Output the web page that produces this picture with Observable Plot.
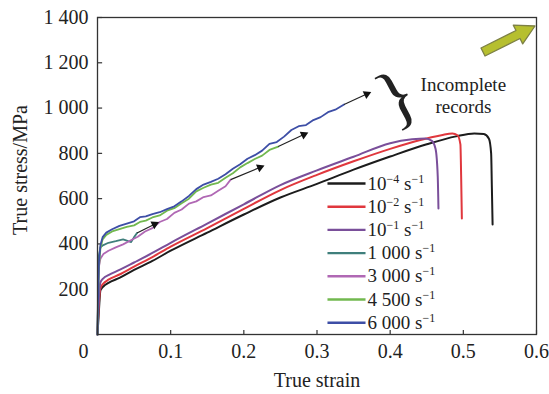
<!DOCTYPE html>
<html>
<head>
<meta charset="utf-8">
<script src="https://cdn.jsdelivr.net/npm/d3@7"></script>
<script src="https://cdn.jsdelivr.net/npm/@observablehq/plot@0.6"></script>
<style>
  html, body { margin: 0; padding: 0; background: #fff; }
  svg text { white-space: pre; font-family: 'Liberation Serif', 'Times New Roman', serif !important; }
</style>
</head>
<body>
<div id="chart"></div>
<script>
// ---------- data ----------
const rateLabels = ["10^−4 s^−1", "10^−2 s^−1", "10^−1 s^−1", "1 000 s^−1", "3 000 s^−1", "4 500 s^−1", "6 000 s^−1"];

const strain_1e4 = [0, 0.002, 0.004, 0.008, 0.015, 0.03, 0.05, 0.075, 0.1, 0.15, 0.2, 0.25, 0.3, 0.35, 0.4, 0.45, 0.49, 0.515, 0.528, 0.535, 0.538, 0.539, 0.54];
const stress_1e4 = [0, 110, 195, 212, 228, 250, 285, 325, 370, 450, 530, 605, 665, 728, 786, 840, 875, 888, 885, 865, 800, 650, 486];

const strain_1e2 = [0, 0.002, 0.004, 0.008, 0.015, 0.03, 0.05, 0.075, 0.1, 0.15, 0.2, 0.25, 0.3, 0.35, 0.4, 0.44, 0.47, 0.485, 0.492, 0.496, 0.497, 0.498];
const stress_1e2 = [0, 140, 205, 225, 242, 265, 300, 342, 388, 470, 555, 638, 705, 765, 820, 858, 880, 888, 880, 840, 700, 512];

const strain_1e1 = [0, 0.002, 0.004, 0.008, 0.015, 0.03, 0.05, 0.075, 0.1, 0.15, 0.2, 0.25, 0.3, 0.35, 0.4, 0.43, 0.448, 0.457, 0.462, 0.465, 0.466];
const stress_1e1 = [0, 170, 230, 248, 262, 285, 318, 360, 405, 490, 575, 660, 725, 785, 845, 862, 866, 855, 820, 700, 556];

const strain_1000 = [0, 0.001, 0.002, 0.004, 0.008, 0.015, 0.025, 0.035, 0.042, 0.046, 0.05, 0.054];
const stress_1000 = [0, 250, 350, 385, 395, 405, 412, 420, 412, 408, 430, 448];

const strain_3000 = [0, 0.001, 0.002, 0.004, 0.008, 0.015, 0.025, 0.035, 0.045, 0.055, 0.065, 0.075, 0.085, 0.095, 0.105, 0.115, 0.125, 0.135, 0.145, 0.155, 0.165, 0.175, 0.182];
const stress_3000 = [0, 200, 300, 335, 355, 370, 385, 398, 415, 432, 455, 470, 497, 510, 537, 552, 578, 588, 607, 614, 635, 655, 684];

const strain_4500 = [0, 0.001, 0.002, 0.004, 0.007, 0.012, 0.02, 0.03, 0.04, 0.05, 0.058, 0.066, 0.075, 0.085, 0.095, 0.105, 0.115, 0.125, 0.135, 0.145, 0.155, 0.165, 0.175, 0.185, 0.195, 0.205, 0.215, 0.225, 0.235, 0.247];
const stress_4500 = [0, 180, 300, 380, 420, 440, 455, 465, 475, 482, 497, 503, 517, 526, 547, 558, 580, 600, 632, 648, 662, 670, 692, 712, 738, 757, 775, 790, 815, 830];

const strain_6000 = [0, 0.001, 0.002, 0.004, 0.007, 0.012, 0.02, 0.03, 0.04, 0.05, 0.058, 0.066, 0.075, 0.085, 0.095, 0.105, 0.115, 0.125, 0.135, 0.145, 0.155, 0.165, 0.175, 0.185, 0.195, 0.205, 0.215, 0.225, 0.235, 0.245, 0.255, 0.265, 0.275, 0.285, 0.295, 0.305, 0.315, 0.325, 0.337];
const stress_6000 = [0, 200, 320, 395, 430, 450, 465, 480, 490, 500, 518, 522, 532, 540, 554, 566, 588, 612, 642, 662, 674, 688, 708, 732, 752, 776, 792, 812, 842, 850, 874, 903, 920, 925, 947, 960, 982, 993, 1016];

// arrow end points for the incomplete records (1 000, 3 000, 4 500, 6 000 s^-1)
const arrowEndStrain = [0.078, 0.222, 0.282, 0.368];
const arrowEndStress = [487, 738, 883, 1062];

const xTickValues = [0.1, 0.2, 0.3, 0.4, 0.5, 0.6];
const yTickValues = [200, 400, 600, 800, 1000, 1200, 1400];

// ---------- styles / layout ----------
const rateColors = ["#1c1c1c", "#e0373d", "#7a4f9a", "#3f7f7c", "#b068b4", "#72b84f", "#3d4ea6"];
const W = 549, H = 394, ML = 97, MR = 13, MT = 17, MB = 60;
const FONT = "'Liberation Serif','Times New Roman',serif";

// ---------- build tables ----------
const seriesStrain = [strain_1e4, strain_1e2, strain_1e1, strain_1000, strain_3000, strain_4500, strain_6000];
const seriesStress = [stress_1e4, stress_1e2, stress_1e1, stress_1000, stress_3000, stress_4500, stress_6000];
const rows = [];
seriesStrain.forEach((xs, i) => {
  xs.forEach((s, k) => rows.push({rate: rateLabels[i], idx: i, strain: s, stress: seriesStress[i][k]}));
});
const quasi = rows.filter(d => d.idx < 3);
const dynamic = rows.filter(d => d.idx >= 3);

const arrowSeries = [3, 4, 5, 6];
const pxPerX = (W - ML - MR) / 0.6, pxPerY = (H - MT - MB) / 1400;
const arrows = arrowSeries.map((si, j) => {
  const xs = seriesStrain[si], ys = seriesStress[si];
  const x1 = xs[xs.length - 1], y1 = ys[ys.length - 1];
  const x2 = arrowEndStrain[j], y2 = arrowEndStress[j];
  const ang = Math.atan2((x2 - x1) * pxPerX, (y2 - y1) * pxPerY) * 180 / Math.PI;
  return {x1, y1, x2, y2, ang};
});

const legendRows = rateLabels.map((label, i) => ({label, ly: 667 - i * 102.5}));

const thousands = d3.formatLocale({decimal: ".", thousands: " ", grouping: [3], currency: ["", ""]}).format(",");

const plot = Plot.plot({
  width: W, height: H,
  marginLeft: ML, marginRight: MR, marginTop: MT, marginBottom: MB,
  style: {fontFamily: FONT, fontSize: "19px", background: "#fff", color: "#222", overflow: "visible"},
  x: {domain: [0, 0.6]},
  y: {domain: [0, 1400]},
  color: {domain: rateLabels, range: rateColors},
  marks: [
    Plot.axisX(xTickValues, {tickSize: 0, tickPadding: 9, tickFormat: d => d.toFixed(1), label: null, fontSize: 20, fill: "#222"}),
    Plot.axisY(yTickValues, {tickSize: 0, tickPadding: 9, tickFormat: d => thousands(d), label: null, fontSize: 20, fill: "#222"}),
    Plot.text(["0"], {frameAnchor: "bottom-left", textAnchor: "middle", lineAnchor: "middle", dx: -14, dy: 17, fontSize: 20, fill: "#222"}),
    Plot.ruleX(xTickValues, {y1: 0, y2: 18, stroke: "#333", strokeWidth: 1.2}),
    Plot.ruleY(yTickValues, {x1: 0, x2: 0.007, stroke: "#333", strokeWidth: 1.2}),
    Plot.line(quasi, {x: "strain", y: "stress", z: "rate", stroke: "rate", strokeWidth: 2, curve: "monotone-x"}),
    Plot.line(dynamic, {x: "strain", y: "stress", z: "rate", stroke: "rate", strokeWidth: 1.8, curve: "linear"}),
    Plot.link(arrows, {x1: "x1", y1: "y1", x2: "x2", y2: "y2", stroke: "#222", strokeWidth: 1.2}),
    Plot.dot(arrows, {x: "x2", y: "y2", symbol: "triangle", r: 3.2, fill: "#111", stroke: "none", rotate: "ang"}),
    Plot.ruleY(legendRows, {y: "ly", x1: 0.315, x2: 0.367, stroke: "label", strokeWidth: 2.4}),
    Plot.text(legendRows, {x: 0.369, y: "ly", text: "label", textAnchor: "start", lineAnchor: "middle", fontSize: 19, fill: "#222"}),
    Plot.text(["Incomplete\nrecords"], {x: 0.5, y: 1060, textAnchor: "middle", lineAnchor: "middle", fontSize: 19, lineHeight: 1.16, fill: "#222"}),
    Plot.text(["}"], {x: 0.409, y: 1050, textAnchor: "middle", lineAnchor: "middle", fontSize: 72, rotate: -28, fill: "#222"}),
    Plot.text(["True strain"], {frameAnchor: "bottom", textAnchor: "middle", lineAnchor: "middle", dy: 46, fontSize: 20, fill: "#222"}),
    Plot.text(["True stress/MPa"], {frameAnchor: "left", textAnchor: "middle", lineAnchor: "middle", dx: -77, dy: -6, rotate: -90, fontSize: 20, fill: "#222"}),
    Plot.frame({stroke: "#333", strokeWidth: 1.3})
  ]
});

// superscripts in the legend labels
const svgNS = "http://www.w3.org/2000/svg";
plot.querySelectorAll("text").forEach(t => {
  const s = t.textContent;
  if (!s.includes("^")) return;
  const parts = s.split(/\^(−?\d+)/);
  t.textContent = "";
  let raised = false;
  parts.forEach((p, i) => {
    if (p === "") return;
    const ts = document.createElementNS(svgNS, "tspan");
    ts.textContent = p;
    if (i % 2 === 1) { ts.setAttribute("font-size", "12"); ts.setAttribute("dy", "-7"); raised = true; }
    else if (raised) { ts.setAttribute("dy", "7"); raised = false; }
    t.appendChild(ts);
  });
});

// decorative block arrow at the top-right corner
(function () {
  const T = [535, 26], A = [483, 52];
  const dx = T[0] - A[0], dy = T[1] - A[1], L = Math.hypot(dx, dy);
  const u = [dx / L, dy / L], n = [-u[1], u[0]];
  const sw = 4.5, hw = 10.5, hl = 19;
  const B = [T[0] - hl * u[0], T[1] - hl * u[1]];
  const P = (p, k) => [p[0] + k * n[0], p[1] + k * n[1]];
  const pts = [P(A, sw), P(B, sw), P(B, hw), T, P(B, -hw), P(B, -sw), P(A, -sw)];
  d3.select(plot).append("path")
    .attr("d", "M" + pts.map(p => p[0].toFixed(1) + "," + p[1].toFixed(1)).join("L") + "Z")
    .attr("fill", "#b6bf2f").attr("stroke", "#7d8046").attr("stroke-width", 1.3).attr("stroke-linejoin", "round");
})();

document.getElementById("chart").appendChild(plot);
</script>
</body>
</html>
